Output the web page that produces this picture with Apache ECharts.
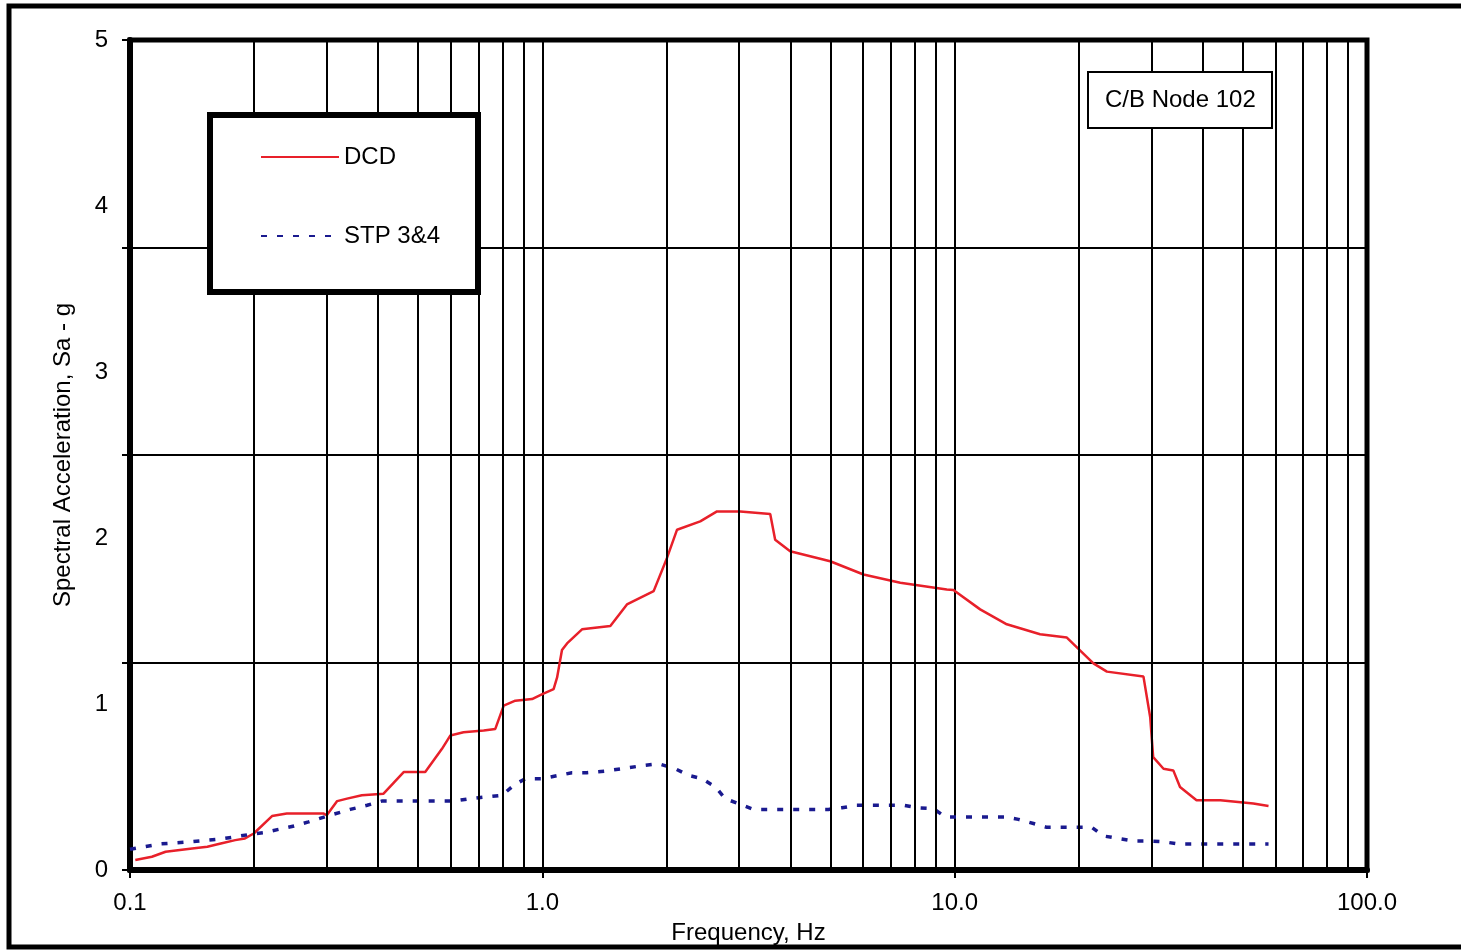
<!DOCTYPE html>
<html>
<head>
<meta charset="utf-8">
<script src="https://cdn.jsdelivr.net/npm/echarts@6/dist/echarts.min.js"></script>
<style>
html,body{margin:0;padding:0;background:#fff;}
#chart{width:1461px;height:950px;}
</style>
</head>
<body>
<div id="chart"></div>
<script>
// ---- data ----
const dcdFreq = [0.103,0.113,0.122,0.1415,0.154,0.166,0.180,0.190,0.1996,0.221,0.240,0.295,0.300,0.318,0.336,0.365,0.412,0.461,0.520,0.571,0.598,0.644,0.721,0.769,0.806,0.860,0.944,1.0,1.065,1.086,1.116,1.148,1.248,1.462,1.604,1.862,2.006,2.122,2.415,2.652,3.02,3.57,3.67,3.99,4.99,6.01,7.38,9.57,9.93,11.53,13.38,16.11,18.71,21.7,23.4,28.7,29.8,30.3,32.1,33.9,35.2,38.6,44.1,53.0,57.7];
const dcdSa   = [0.06,0.08,0.11,0.13,0.14,0.16,0.18,0.19,0.22,0.325,0.34,0.34,0.33,0.415,0.43,0.45,0.46,0.59,0.59,0.73,0.81,0.83,0.84,0.85,0.99,1.02,1.03,1.06,1.09,1.16,1.325,1.365,1.45,1.47,1.60,1.68,1.88,2.05,2.10,2.16,2.16,2.145,1.99,1.92,1.86,1.78,1.73,1.69,1.687,1.57,1.48,1.42,1.40,1.245,1.195,1.165,0.92,0.68,0.61,0.60,0.50,0.42,0.42,0.40,0.385];
const stpFreq = [0.1,0.1186,0.140,0.166,0.180,0.196,0.211,0.250,0.271,0.301,0.342,0.376,0.408,0.479,0.61,0.669,0.799,0.852,0.909,1.0,1.18,1.283,1.421,1.561,1.729,1.914,2.101,2.262,2.438,2.63,2.777,3.25,4.94,5.33,5.79,7.52,8.10,8.88,9.48,13.25,14.28,15.53,16.73,21.5,22.96,27.1,29.5,32.1,34.9,57.7];
const stpSa   = [0.125,0.157,0.17,0.187,0.20,0.215,0.225,0.265,0.29,0.325,0.365,0.39,0.415,0.415,0.415,0.43,0.45,0.51,0.55,0.55,0.586,0.586,0.596,0.61,0.627,0.64,0.61,0.57,0.55,0.50,0.43,0.365,0.365,0.375,0.39,0.39,0.375,0.37,0.32,0.32,0.305,0.28,0.257,0.257,0.205,0.175,0.175,0.17,0.157,0.157];
const xTicks = [0.1, 1, 10, 100];
const xTickLabels = ['0.1', '1.0', '10.0', '100.0'];
const yLabelValues = [0, 1, 2, 3, 4, 5];
const minorGridFreq = [0.2,0.3,0.4,0.5,0.6,0.7,0.8,0.9,2,3,4,5,6,7,8,9,20,30,40,50,60,70,80,90];
const seriesNames = ['DCD', 'STP 3&4'];
const noteText = 'C/B Node 102';
const xName = 'Frequency, Hz';
const yName = 'Spectral Acceleration, Sa - g';

const zip = (a, b) => a.map((v, i) => [v, b[i]]);
const FONT = '"Liberation Sans", Arial, sans-serif';
const FS = 24;

const chart = echarts.init(document.getElementById('chart'), null, {renderer: 'canvas'});
chart.setOption({
  backgroundColor: '#ffffff',
  animation: false,
  textStyle: {fontFamily: FONT, color: '#000'},
  title: {
    text: noteText,
    left: 1088, top: 72,
    padding: [16, 16, 16, 17],
    borderColor: '#000', borderWidth: 2,
    backgroundColor: '#fff',
    textStyle: {fontFamily: FONT, fontSize: FS, fontWeight: 'normal', color: '#000'}
  },
  legend: {
    orient: 'vertical',
    left: 210, top: 115,
    padding: [30, 40, 44, 50],
    itemGap: 55,
    itemWidth: 78, itemHeight: 14,
    z: 10,
    itemStyle: {opacity: 0},
    textStyle: {fontFamily: FONT, fontSize: FS, color: '#000'},
    data: seriesNames
  },
  graphic: [{
    type: 'rect', silent: true, z: 100,
    shape: {x: 9, y: 6, width: 1470, height: 941},
    style: {fill: null, stroke: '#000', lineWidth: 5}
  }, {
    type: 'rect', silent: true, z: 8,
    shape: {x: 210, y: 115, width: 268, height: 177},
    style: {fill: '#fff', stroke: '#000', lineWidth: 6}
  }],
  grid: {
    left: 130, right: 94, top: 40, bottom: 80,
    show: true, borderColor: '#000', borderWidth: 5, backgroundColor: 'transparent'
  },
  xAxis: {
    type: 'log', logBase: 10, min: 0.1, max: 100,
    name: xName, nameLocation: 'middle', nameGap: 51,
    nameTextStyle: {fontFamily: FONT, fontSize: FS, color: '#000'},
    axisLine: {lineStyle: {color: '#000', width: 6}},
    axisTick: {show: true, length: 8, lineStyle: {color: '#000', width: 2}},
    axisLabel: {
      fontFamily: FONT, fontSize: FS, color: '#000', margin: 21,
      formatter: function (v) {
        let best = 0;
        xTicks.forEach((t, i) => { if (Math.abs(Math.log10(t) - Math.log10(v)) < Math.abs(Math.log10(xTicks[best]) - Math.log10(v))) best = i; });
        return xTickLabels[best];
      }
    },
    splitLine: {show: true, lineStyle: {color: '#000', width: 2}},
    minorTick: {show: false}
  },
  yAxis: [{
    type: 'value', min: 0, max: 5, interval: 1.25,
    axisLine: {show: true, lineStyle: {color: '#000', width: 6}},
    axisTick: {show: true, length: 8, lineStyle: {color: '#000', width: 2}},
    axisLabel: {show: false},
    splitLine: {show: true, lineStyle: {color: '#000', width: 2}}
  }, {
    type: 'value', min: 0, max: 5, interval: 1, position: 'left',
    name: yName, nameLocation: 'middle', nameGap: 55, nameRotate: 90,
    nameTextStyle: {fontFamily: FONT, fontSize: FS, color: '#000'},
    axisLine: {show: false}, axisTick: {show: false}, splitLine: {show: false},
    axisLabel: {
      fontFamily: FONT, fontSize: FS, color: '#000', margin: 22,
      formatter: function (v) { const i = yLabelValues.indexOf(Math.round(v)); return i >= 0 ? String(yLabelValues[i]) : ''; }
    }
  }],
  series: [{
    name: 'grid-minor', type: 'line', data: [], silent: true, z: 1,
    markLine: {
      silent: true, symbol: ['none', 'none'], label: {show: false},
      lineStyle: {color: '#000', width: 2, type: 'solid'},
      emphasis: {disabled: true},
      data: minorGridFreq.map(f => ({xAxis: f}))
    }
  }, {
    name: seriesNames[0], type: 'line', z: 3,
    data: zip(dcdFreq, dcdSa),
    symbol: 'none', showSymbol: false,
    lineStyle: {color: '#e8202a', width: 2.5},
    itemStyle: {color: '#e8202a'}
  }, {
    name: seriesNames[1], type: 'line', z: 3,
    data: zip(stpFreq, stpSa),
    symbol: 'none', showSymbol: false,
    lineStyle: {color: '#1a1a8f', width: 3.5, type: [6, 10]},
    itemStyle: {color: '#1a1a8f'}
  }]
});
</script>
</body>
</html>
